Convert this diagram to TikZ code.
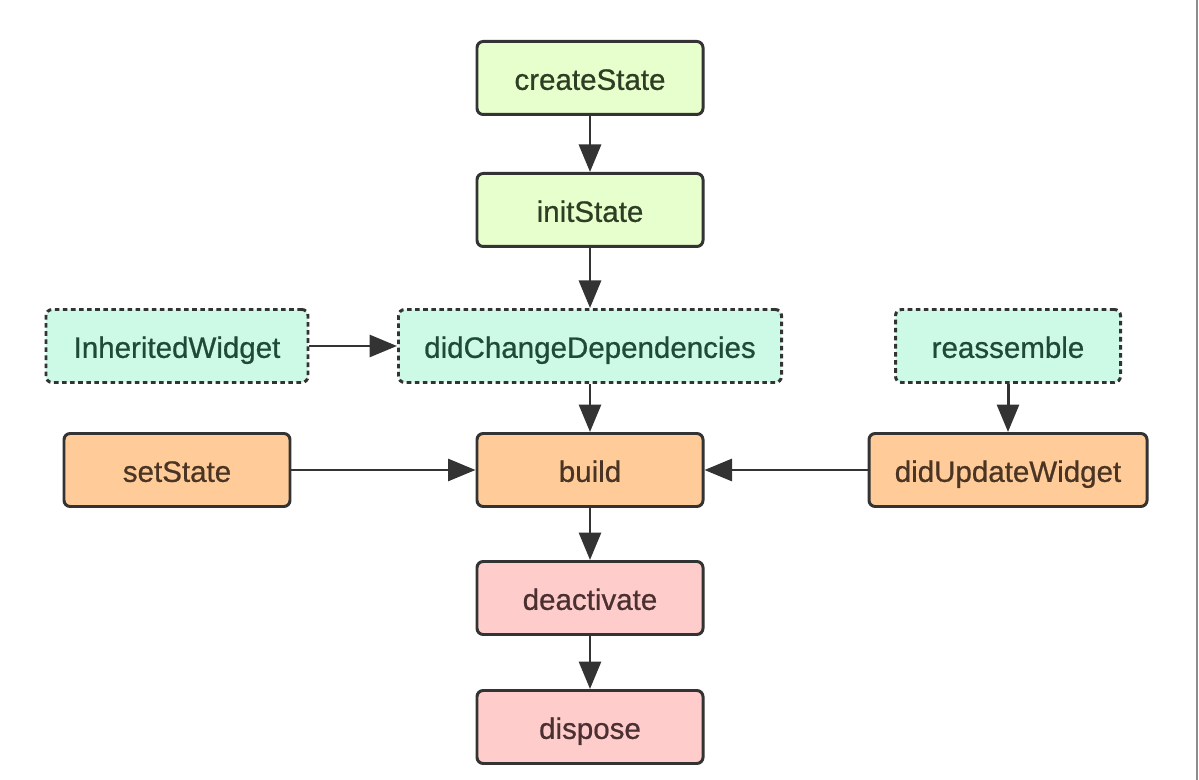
\documentclass[tikz,border=0pt]{standalone}
\usepackage{fontspec}
\setmainfont{Liberation Sans}
\newfontfamily\boxfont[FakeBold=0.7]{Liberation Sans}
\usetikzlibrary{arrows.meta}

\definecolor{limefill}{HTML}{E6FFCC}
\definecolor{mintfill}{HTML}{CCFAE6}
\definecolor{peachfill}{HTML}{FFCC99}
\definecolor{pinkfill}{HTML}{FFCCCC}
\definecolor{edgeline}{HTML}{333333}
\definecolor{limetext}{HTML}{2E3D24}
\definecolor{minttext}{HTML}{1F4A38}
\definecolor{peachtext}{HTML}{4A3423}
\definecolor{pinktext}{HTML}{4A3030}

\tikzset{
    box/.style={rectangle, rounded corners=3.5pt, draw=edgeline, line width=1.7pt,
        minimum width=4.52cm, minimum height=1.46cm, inner sep=0pt,
        text height=16pt, text depth=2.5pt,
        font=\boxfont\fontsize{16.8pt}{20pt}\selectfont},
    lifebox/.style={box, fill=limefill, text=limetext},
    hookbox/.style={box, fill=mintfill, text=minttext, dash pattern=on 2.6pt off 2pt},
    updatebox/.style={box, fill=peachfill, text=peachtext},
    endbox/.style={box, fill=pinkfill, text=pinktext},
    flow/.style={-{Triangle[length=0.55cm, width=0.44cm]}, draw=edgeline, line width=1.7pt}
}

\begin{document}
\begin{tikzpicture}

    \useasboundingbox (0,0) rectangle (23.98,-15.6);

    \coordinate (C1)  at (11.8, -1.56);
    \coordinate (C2)  at (11.8, -4.2);
    \coordinate (C3)  at (11.8, -6.92);
    \coordinate (C4)  at (3.54, -6.92);
    \coordinate (C5)  at (20.16, -6.92);
    \coordinate (C6)  at (3.54, -9.4);
    \coordinate (C7)  at (11.8, -9.4);
    \coordinate (C8)  at (20.16, -9.4);
    \coordinate (C9)  at (11.8, -11.96);
    \coordinate (C10) at (11.8, -14.54);

    \node[lifebox]   (N1)  at (C1)  {createState};
    \node[lifebox]   (N2)  at (C2)  {initState};
    \node[hookbox, minimum width=7.66cm] (N3) at (C3) {didChangeDependencies};
    \node[hookbox, minimum width=5.24cm] (N4) at (C4) {InheritedWidget};
    \node[hookbox, minimum width=4.5cm]  (N5) at (C5) {reassemble};
    \node[updatebox] (N6)  at (C6)  {setState};
    \node[updatebox] (N7)  at (C7)  {build};
    \node[updatebox, minimum width=5.56cm] (N8) at (C8) {didUpdateWidget};
    \node[endbox]    (N9)  at (C9)  {deactivate};
    \node[endbox]    (N10) at (C10) {dispose};

    \draw [flow] (N1) -- (N2);
    \draw [flow] (N2) -- (N3);
    \draw [flow] (N4) -- (N3);
    \draw [flow] (N3) -- (N7);

    \draw [flow] (N5) -- (N8);
    \draw [flow] (N6) -- (N7);
    \draw [flow] (N8) -- (N7);

    \draw [flow] (N7) -- (N9);
    \draw [flow] (N9) -- (N10);

    \draw [gray!90, line width=1.2pt] (23.94,0) -- (23.94,-15.6);

\end{tikzpicture}
\end{document}
